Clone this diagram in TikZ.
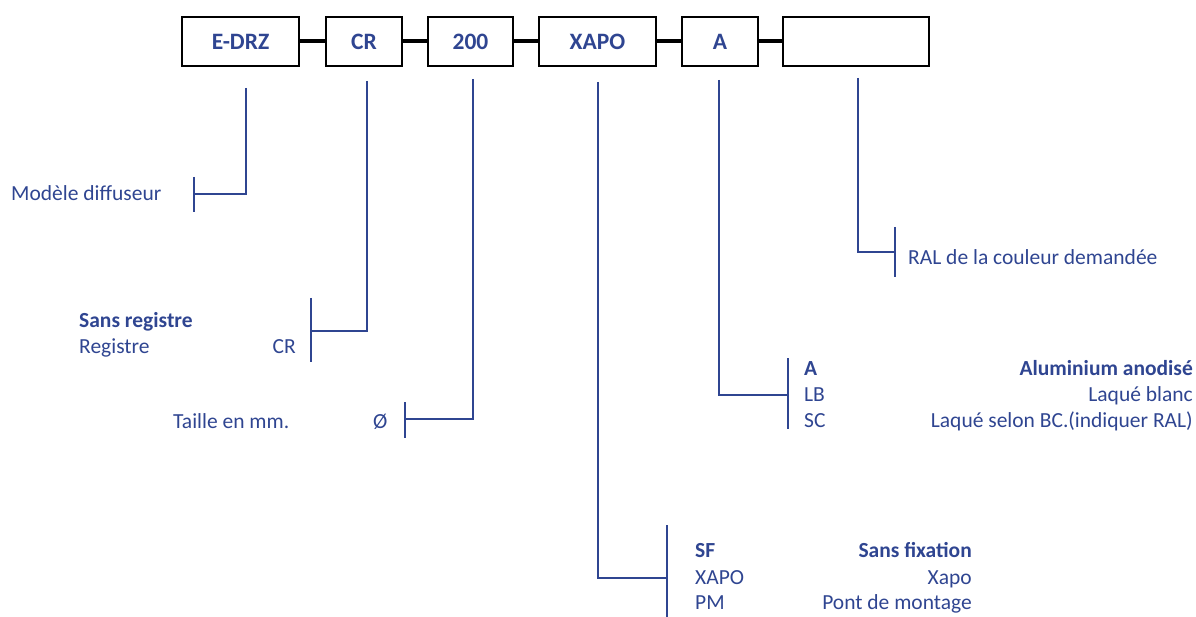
\documentclass[tikz,border=0pt]{standalone}
\usepackage{fontspec}
\setmainfont{Carlito}
\definecolor{dblue}{RGB}{47,69,145}
\begin{document}
\begin{tikzpicture}[x=1pt,y=-1pt,
 codebox/.style={draw=black,line width=2.2pt,minimum height=49pt,inner sep=0pt,font=\fontsize{23.5}{28}\selectfont\bfseries,text=dblue},
 link/.style={line width=4pt,black},
 lead/.style={draw=dblue,line width=2.8pt},
 lbl/.style={text=dblue,font=\fontsize{21.5}{25}\selectfont,inner sep=0pt},
 lblb/.style={lbl,font=\fontsize{21.5}{25}\selectfont\bfseries},
]
\useasboundingbox (0,0) rectangle (1196,617);
% boxes
\node[codebox,minimum width=117pt] (b1) at (240.5,41.5) {E-DRZ};
\node[codebox,minimum width=76pt]  (b2) at (364,41.5) {CR};
\node[codebox,minimum width=85pt]  (b3) at (470.5,41.5) {200};
\node[codebox,minimum width=117pt] (b4) at (597.5,41.5) {XAPO};
\node[codebox,minimum width=76pt]  (b5) at (720,41.5) {A};
\node[codebox,minimum width=146pt] (b6) at (856,41.5) {};
\draw[link] (b1.east) -- (b2.west);
\draw[link] (b2.east) -- (b3.west);
\draw[link] (b3.east) -- (b4.west);
\draw[link] (b4.east) -- (b5.west);
\draw[link] (b5.east) -- (b6.west);
% leads
\coordinate (t1) at (246,88);  \coordinate (k1) at (194,194); \coordinate (k1a) at (194,177); \coordinate (k1b) at (194,212);
\coordinate (t2) at (367,81);  \coordinate (k2) at (311,331); \coordinate (k2a) at (311,298); \coordinate (k2b) at (311,362);
\coordinate (t3) at (473,79);  \coordinate (k3) at (405,419); \coordinate (k3a) at (405,402); \coordinate (k3b) at (405,438);
\coordinate (t4) at (598,82);  \coordinate (k4) at (667,578); \coordinate (k4a) at (667,525); \coordinate (k4b) at (667,617);
\coordinate (t5) at (719,80);  \coordinate (k5) at (788,395); \coordinate (k5a) at (788,358); \coordinate (k5b) at (788,429);
\coordinate (t6) at (858,78);  \coordinate (k6) at (895,252); \coordinate (k6a) at (895,227); \coordinate (k6b) at (895,277);
\foreach \i in {1,...,6}{
  \draw[lead] (t\i) |- (k\i);
  \draw[lead] (k\i a) -- (k\i b);
}
% labels
\node[lbl,anchor=base west] (m1) at (11,201) {Modèle diffuseur};
\node[lblb,anchor=base west] (s1) at (79,328) {Sans registre};
\node[lbl,anchor=base west] (s2) at (79,353) {Registre};
\node[lbl,anchor=base east] (s3) at (296,353) {CR};
\node[lbl,anchor=base west] (d1) at (173,428) {Taille en mm.};
\node[lbl,anchor=base west] (d2) at (373,428) {Ø};
\node[lblb,anchor=base west] (f1) at (695,557) {SF};
\node[lbl,anchor=base west] (f2) at (695,584) {XAPO};
\node[lbl,anchor=base west] (f3) at (695,609) {PM};
\node[lblb,anchor=base east] (g1) at (972,557) {Sans fixation};
\node[lbl,anchor=base east] (g2) at (972,584) {Xapo};
\node[lbl,anchor=base east] (g3) at (972,609) {Pont de montage};
\node[lblb,anchor=base west] (a1) at (804,375) {A};
\node[lbl,anchor=base west] (a2) at (804,401) {LB};
\node[lbl,anchor=base west] (a3) at (804,427) {SC};
\node[lblb,anchor=base east] (c1) at (1193,375) {Aluminium anodisé};
\node[lbl,anchor=base east] (c2) at (1193,401) {Laqué blanc};
\node[lbl,anchor=base east] (c3) at (1193,427) {Laqué selon BC.(indiquer RAL)};
\node[lbl,anchor=base west] (r1) at (908,265) {RAL de la couleur demandée};
\end{tikzpicture}
\end{document}
